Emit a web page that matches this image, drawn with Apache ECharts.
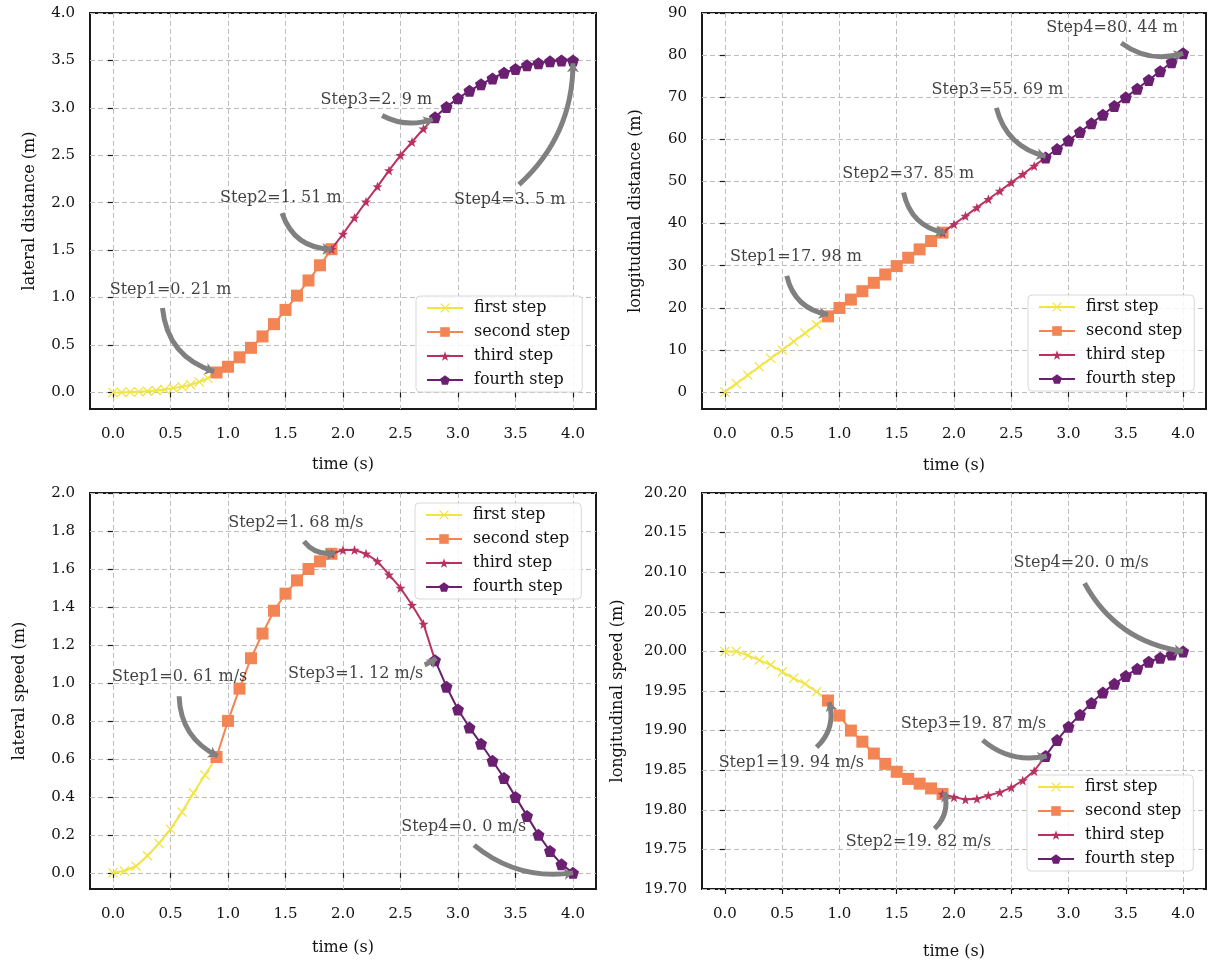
<!DOCTYPE html>
<html><head><meta charset="utf-8">
<script src="https://cdn.jsdelivr.net/npm/echarts@6/dist/echarts.min.js"></script>
<style>html,body{margin:0;padding:0;background:#fff}#c{width:1208px;height:964px}</style>
</head><body><div id="c"></div>
<script>
// ---- time samples (s) ----
const t1 = [0, 0.1, 0.2, 0.3, 0.4, 0.5, 0.6, 0.7, 0.8, 0.9];
const t1Dense = [0, 0.075, 0.15, 0.225, 0.3, 0.375, 0.45, 0.525, 0.6, 0.675, 0.75, 0.825, 0.9];
const t2 = [0.9, 1.0, 1.1, 1.2, 1.3, 1.4, 1.5, 1.6, 1.7, 1.8, 1.9];
const t3 = [1.9, 2.0, 2.1, 2.2, 2.3, 2.4, 2.5, 2.6, 2.7, 2.8];
const t4 = [2.8, 2.9, 3.0, 3.1, 3.2, 3.3, 3.4, 3.5, 3.6, 3.7, 3.8, 3.9, 4.0];

// ---- lateral distance (m) ----
const latDist1 = [0, 0.0, 0.003, 0.006, 0.012, 0.02, 0.03, 0.045, 0.06, 0.08, 0.11, 0.15, 0.21];
const latDist2 = [0.21, 0.27, 0.37, 0.47, 0.59, 0.72, 0.87, 1.02, 1.18, 1.34, 1.51];
const latDist3 = [1.51, 1.67, 1.84, 2.01, 2.17, 2.34, 2.50, 2.64, 2.78, 2.90];
const latDist4 = [2.90, 3.01, 3.10, 3.18, 3.25, 3.31, 3.37, 3.41, 3.45, 3.47, 3.49, 3.50, 3.50];

// ---- longitudinal distance (m) ----
const lonDist1 = [0, 2.0, 4.0, 6.0, 8.0, 10.0, 12.0, 14.0, 16.0, 17.98];
const lonDist2 = [17.98, 19.97, 21.96, 23.95, 25.94, 27.92, 29.91, 31.89, 33.88, 35.86, 37.85];
const lonDist3 = [37.85, 39.83, 41.81, 43.79, 45.77, 47.75, 49.73, 51.72, 53.70, 55.69];
const lonDist4 = [55.69, 57.7, 59.72, 61.76, 63.8, 65.85, 67.91, 69.97, 72.03, 74.1, 76.17, 78.3, 80.44];

// ---- lateral speed ----
const latSpeed1 = [0, 0.01, 0.035, 0.09, 0.155, 0.23, 0.32, 0.42, 0.515, 0.61];
const latSpeed2 = [0.61, 0.80, 0.97, 1.13, 1.26, 1.38, 1.47, 1.54, 1.60, 1.64, 1.68];
const latSpeed3 = [1.68, 1.70, 1.70, 1.68, 1.64, 1.57, 1.50, 1.41, 1.31, 1.12];
const latSpeed4 = [1.12, 0.98, 0.86, 0.765, 0.68, 0.59, 0.50, 0.40, 0.30, 0.20, 0.115, 0.045, 0.0];

// ---- longitudinal speed ----
const lonSpeed1 = [20.0, 20.0, 19.995, 19.989, 19.983, 19.974, 19.966, 19.959, 19.949, 19.938];
const lonSpeed2 = [19.938, 19.919, 19.90, 19.886, 19.871, 19.858, 19.848, 19.839, 19.833, 19.827, 19.82];
const lonSpeed3 = [19.82, 19.816, 19.813, 19.814, 19.818, 19.822, 19.828, 19.837, 19.849, 19.868];
const lonSpeed4 = [19.868, 19.888, 19.905, 19.92, 19.935, 19.948, 19.959, 19.969, 19.978, 19.987, 19.992, 19.996, 20.0];

// ---- names / tick labels ----
const stepNames = ['first step', 'second step', 'third step', 'fourth step'];
const xTicks = [0, 0.5, 1.0, 1.5, 2.0, 2.5, 3.0, 3.5, 4.0];
const yTicksLatDist = [0, 0.5, 1.0, 1.5, 2.0, 2.5, 3.0, 3.5, 4.0];
const yTicksLonDist = [0, 10, 20, 30, 40, 50, 60, 70, 80, 90];
const yTicksLatSpeed = [0, 0.2, 0.4, 0.6, 0.8, 1.0, 1.2, 1.4, 1.6, 1.8, 2.0];
const yTicksLonSpeed = [19.70, 19.75, 19.80, 19.85, 19.90, 19.95, 20.00, 20.05, 20.10, 20.15, 20.20];

// ---- annotations ----
const annLatDistText = ['Step1=0. 21 m', 'Step2=1. 51 m', 'Step3=2. 9 m', 'Step4=3. 5 m'];
const annLatDistPos = [[0.50, 1.08], [1.46, 2.05], [2.29, 3.08], [3.45, 2.03]];
const annLatDistArrow = [[[0.43, 0.89], [0.88, 0.22], -0.33], [[1.47, 1.89], [1.90, 1.51], -0.35], [[2.34, 2.92], [2.78, 2.88], -0.22], [[3.53, 2.19], [4.0, 3.47], -0.22]];

const annLonDistText = ['Step1=17. 98 m', 'Step2=37. 85 m', 'Step3=55. 69 m', 'Step4=80. 44 m'];
const annLonDistPos = [[0.62, 32.1], [1.60, 51.9], [2.38, 71.7], [3.38, 86.5]];
const annLonDistArrow = [[[0.54, 27.6], [0.90, 18.4], -0.33], [[1.56, 47.4], [1.92, 37.8], -0.33], [[2.37, 67.5], [2.80, 56.0], -0.3], [[3.46, 82.9], [4.0, 80.4], -0.25]];

const annLatSpeedText = ['Step1=0. 61 m/s', 'Step2=1. 68 m/s', 'Step3=1. 12 m/s', 'Step4=0. 0 m/s'];
const annLatSpeedPos = [[0.58, 1.03], [1.59, 1.845], [2.11, 1.047], [3.05, 0.24]];
const annLatSpeedArrow = [[[0.575, 0.93], [0.91, 0.615], -0.3], [[1.66, 1.745], [1.93, 1.685], -0.3], [[2.71, 1.095], [2.81, 1.13], -0.1], [[3.14, 0.146], [4.0, 0.0], -0.22]];

const annLonSpeedText = ['Step1=19. 94 m/s', 'Step2=19. 82 m/s', 'Step3=19. 87 m/s', 'Step4=20. 0 m/s'];
const annLonSpeedPos = [[0.58, 19.859], [1.69, 19.76], [2.17, 19.909], [3.11, 20.112]];
const annLonSpeedArrow = [[[0.80, 19.879], [0.91, 19.936], -0.3], [[1.83, 19.776], [1.915, 19.822], -0.3], [[2.25, 19.888], [2.81, 19.868], -0.25], [[3.14, 20.086], [4.0, 20.0], -0.25]];

// ---- styles ----
const FONT = 'DejaVu Serif';
const TXT = '#111';
const stepColors = ['#f1e445', '#f38454', '#b9325e', '#6a1f70'];
const stepSymbols = [
  'path://M0,0.9L0.9,0L5,4.1L9.1,0L10,0.9L5.9,5L10,9.1L9.1,10L5,5.9L0.9,10L0,9.1L4.1,5Z',
  'rect',
  'path://M5,0L6.176,3.382L9.755,3.455L6.902,5.618L7.939,9.045L5,7L2.061,9.045L3.098,5.618L0.245,3.455L3.824,3.382Z',
  'path://M5,0L9.755,3.455L7.939,9.045L2.061,9.045L0.245,3.455Z'
];
const stepSymbolSizes = [10, 12, 10, 12];

const panels = [
  { grid: { left: 90, top: 13, width: 506, height: 396 }, yMin: -0.175, yMax: 4.0, yTicks: yTicksLatDist, yDec: 1,
    yName: 'lateral distance (m)', yGap: 52, xGap: 48,
    steps: [[t1Dense, latDist1], [t2, latDist2], [t3, latDist3], [t4, latDist4]],
    annText: annLatDistText, annPos: annLatDistPos, annArrow: annLatDistArrow, legend: { left: 416, top: 296 } },
  { grid: { left: 702, top: 13, width: 504, height: 396 }, yMin: -4.02, yMax: 90, yTicks: yTicksLonDist, yDec: 0,
    yName: 'longitudinal distance (m)', yGap: 58, xGap: 49,
    steps: [[t1, lonDist1], [t2, lonDist2], [t3, lonDist3], [t4, lonDist4]],
    annText: annLonDistText, annPos: annLonDistPos, annArrow: annLonDistArrow, legend: { left: 1028, top: 295 } },
  { grid: { left: 90, top: 493, width: 506, height: 396 }, yMin: -0.085, yMax: 2.0, yTicks: yTicksLatSpeed, yDec: 1,
    yName: 'lateral speed (m)', yGap: 62, xGap: 51,
    steps: [[t1, latSpeed1], [t2, latSpeed2], [t3, latSpeed3], [t4, latSpeed4]],
    annText: annLatSpeedText, annPos: annLatSpeedPos, annArrow: annLatSpeedArrow, legend: { left: 415, top: 503 } },
  { grid: { left: 702, top: 493, width: 504, height: 396 }, yMin: 19.70, yMax: 20.20, yTicks: yTicksLonSpeed, yDec: 2,
    yName: 'longitudinal speed (m)', yGap: 76, xGap: 55,
    steps: [[t1, lonSpeed1], [t2, lonSpeed2], [t3, lonSpeed3], [t4, lonSpeed4]],
    annText: annLonSpeedText, annPos: annLonSpeedPos, annArrow: annLonSpeedArrow, legend: { left: 1027, top: 775 } }
];

const splitLine = { show: true, lineStyle: { color: '#bdbdbd', width: 1, type: [5, 3] } };
const option = { backgroundColor: '#fff', animation: false, grid: [], xAxis: [], yAxis: [], legend: [], series: [] };

panels.forEach((p, i) => {
  option.grid.push(Object.assign({ show: true, borderColor: '#1a1a1a', borderWidth: 2, backgroundColor: 'transparent', containLabel: false }, p.grid));
  option.xAxis.push({
    type: 'value', gridIndex: i, min: -0.2, max: 4.2,
    axisLine: { show: false },
    axisTick: { show: true, length: 5, customValues: xTicks, lineStyle: { color: '#1a1a1a', width: 1.2 } },
    axisLabel: { customValues: xTicks, formatter: v => v.toFixed(1), margin: 18, color: TXT, fontFamily: FONT, fontSize: 15 },
    splitLine: splitLine,
    name: 'time (s)', nameLocation: 'middle', nameGap: p.xGap,
    nameTextStyle: { color: TXT, fontFamily: FONT, fontSize: 16 }
  });
  option.yAxis.push({
    type: 'value', gridIndex: i, min: p.yMin, max: p.yMax,
    axisLine: { show: false },
    axisTick: { show: true, length: 5, customValues: p.yTicks, lineStyle: { color: '#1a1a1a', width: 1.2 } },
    axisLabel: { customValues: p.yTicks, formatter: v => v.toFixed(p.yDec), margin: 15, color: TXT, fontFamily: FONT, fontSize: 15 },
    splitLine: splitLine,
    name: p.yName, nameLocation: 'middle', nameGap: p.yGap,
    nameTextStyle: { color: TXT, fontFamily: FONT, fontSize: 16 }
  });
  option.legend.push({
    data: stepNames, orient: 'vertical', left: p.legend.left, top: p.legend.top,
    itemWidth: 36, itemHeight: 12, itemGap: 8,
    padding: [4, 12, 4, 10],
    backgroundColor: 'rgba(255,255,255,0.85)', borderColor: '#d8d8d8', borderWidth: 1, borderRadius: 4,
    textStyle: { color: TXT, fontFamily: FONT, fontSize: 16, padding: [0, 0, 0, 6] },
    selectedMode: false
  });
  p.steps.forEach((s, k) => {
    option.series.push({
      type: 'line', name: stepNames[k], xAxisIndex: i, yAxisIndex: i,
      data: s[0].map((t, j) => [t, s[1][j]]),
      symbol: stepSymbols[k], symbolSize: stepSymbolSizes[k], showAllSymbol: true,
      lineStyle: { color: stepColors[k], width: 2 },
      itemStyle: { color: stepColors[k] },
      z: 3 + k
    });
  });
  option.series.push({
    type: 'lines', coordinateSystem: 'cartesian2d', xAxisIndex: i, yAxisIndex: i, silent: true,
    symbol: ['none', 'arrow'], symbolSize: 9, z: 8,
    lineStyle: { color: '#808080', width: 5, opacity: 1 },
    data: p.annArrow.map(a => ({ coords: [a[0], a[1]], lineStyle: { curveness: a[2] } }))
  });
  option.series.push({
    type: 'scatter', xAxisIndex: i, yAxisIndex: i, silent: true, symbolSize: 0, z: 9,
    label: { show: true, position: 'inside', formatter: '{b}', color: TXT, fontFamily: FONT, fontSize: 16 },
    data: p.annText.map((txt, j) => ({ name: txt, value: p.annPos[j] }))
  });
});

const chart = echarts.init(document.getElementById('c'), null, { renderer: 'canvas' });
chart.setOption(option);
</script></body></html>
